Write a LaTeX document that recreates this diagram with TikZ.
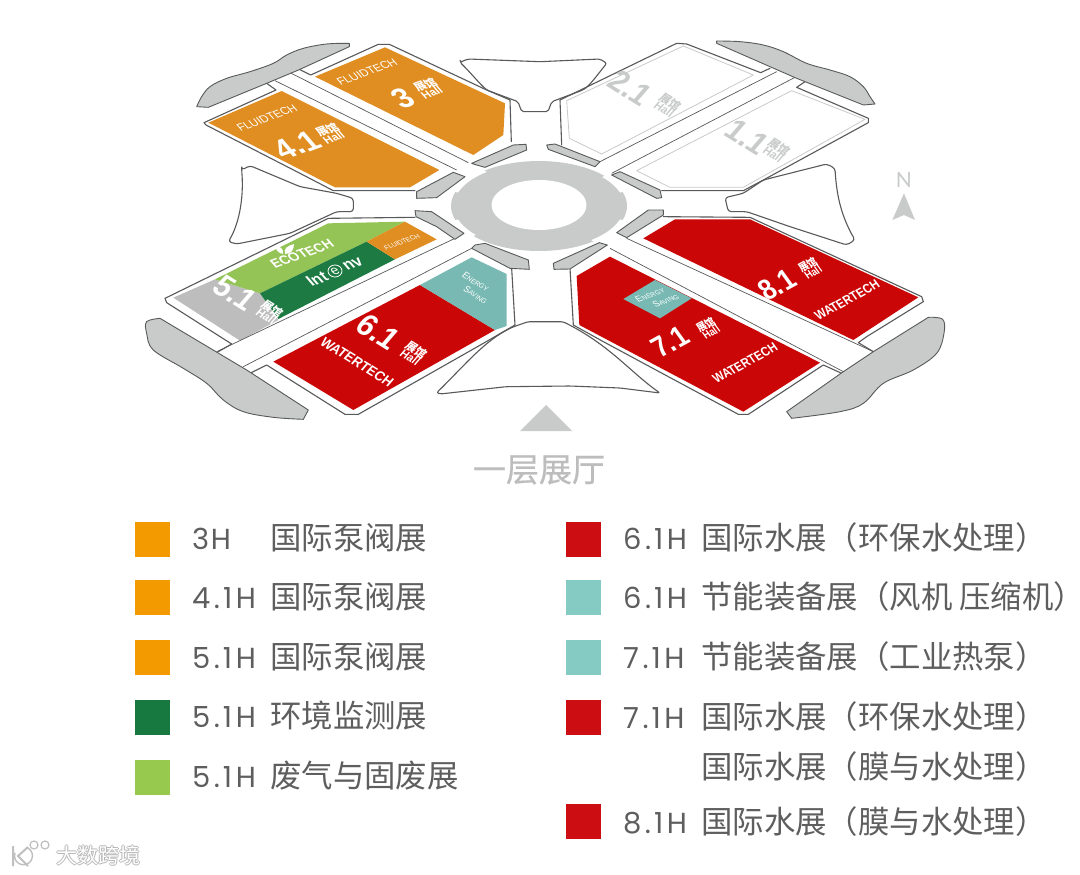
\documentclass[tikz,border=0pt]{standalone}
\usepackage{fontspec}
\setmainfont{Liberation Sans}
\newfontfamily\cjk{Noto Sans CJK SC}
\newfontfamily\cjkm[FakeBold=.6]{Noto Sans CJK SC}
\newfontfamily\latn[LetterSpace=6]{Poppins}
\definecolor{ol}{HTML}{58595B}
\definecolor{bar}{HTML}{C9CBCB}
\definecolor{hallor}{HTML}{E08E22}
\definecolor{hallred}{HTML}{CB0606}
\definecolor{hallteal}{HTML}{78B9B3}
\definecolor{dgreen}{HTML}{1C7A42}
\definecolor{lgreen}{HTML}{94C455}
\definecolor{hgray}{HTML}{BDBDBD}
\definecolor{ltxt}{HTML}{5E5E5E}
\definecolor{swor}{HTML}{F39A00}
\definecolor{swred}{HTML}{CC0D12}
\definecolor{swteal}{HTML}{86CAC4}
\definecolor{swdg}{HTML}{17793F}
\definecolor{swlg}{HTML}{98C94F}
\tikzset{
 ln/.style={draw=ol,line width=1.1pt,line join=round,line cap=round},
 thin road/.style={draw=ol,line width=.7pt},
 grayshape/.style={fill=bar,draw=ol,line width=.9pt,line join=round},
 z1/.style={shift={(140,30)},x=.33333pt,y=-.33333pt},
 z2/.style={shift={(540,30)},x=.33333pt,y=-.33333pt},
 z3/.style={shift={(140,200)},x=.33333pt,y=-.33333pt},
 z4/.style={shift={(520,200)},x=.33333pt,y=-.33333pt},
 isou/.style={cm={.82,.3,-.62,.72,(0,0)},inner sep=0pt,text=white,align=center},
 isor/.style={cm={.66,.36,-.52,.72,(0,0)},inner sep=0pt,text=white,align=center},
 isod/.style={cm={.74,-.46,.62,.72,(0,0)},inner sep=0pt,text=white,align=center},
 swatch/.style={minimum width=35pt,minimum height=35pt,inner sep=0pt,anchor=north west},
 leg/.style={text=ltxt,anchor=west,inner sep=0pt,font=\fontsize{29}{32}\selectfont\latn},
 legc/.style={text=ltxt,anchor=west,inner sep=0pt,font=\fontsize{31.4}{34}\selectfont\cjk},
 bignum/.style={font=\fontsize{34}{34}\selectfont\bfseries},
 hallt/.style={font=\fontsize{12.5}{12.5}\selectfont\cjk\bfseries},
 brand/.style={font=\fontsize{12.5}{12.5}\selectfont},
 wt/.style={font=\fontsize{15}{15}\selectfont\bfseries},
}
\newcommand\hl{{展馆}\\[-2pt]{\fontspec{Liberation Sans}\bfseries Hall}}
\newcommand\es[2]{{\fontsize{10}{10}\selectfont #1}{\fontsize{7.5}{10}\selectfont #2}}
\newcommand\lv[1]{#1\kern3.5pt.\kern3pt 1\kern3.5pt H}
\begin{document}
\begin{tikzpicture}[x=1pt,y=-1pt]
\useasboundingbox (0,0) rectangle (1080,875);
\fill[white] (0,0) rectangle (1080,875);
% fills
\begin{scope}[z1]
\fill[hallor] (525,140)--(735,52)--(1095,220)--(1090,315)--(1000,375)--cycle;
\fill[hallor] (205,278)--(425,183)--(898,420)--(810,472)--(585,472)--cycle;
\end{scope}
\begin{scope}[z3]
\fill[hgray] (225,238)--(100,293)--(300,422)--(415,360)--(360,280)--cycle;
\fill[lgreen] (225,238)--(565,70)--(795,65)--(680,125)--(360,280)--cycle;
\fill[dgreen] (360,280)--(680,125)--(765,178)--(415,357)--cycle;
\fill[hallor] (680,125)--(795,65)--(890,118)--(765,178)--cycle;
\fill[hallred] (840,255)--(1065,390)--(640,630)--(400,485)--cycle;
\fill[hallteal] (840,255)--(995,172)--(1100,222)--(1100,378)--(1065,390)--cycle;
\end{scope}
\begin{scope}[z4]
\fill[hallred] (370,115)--(465,58)--(690,58)--(1195,292)--(1000,420)--cycle;
\fill[hallred] (270,170)--(900,488)--(670,635)--(178,375)--(170,228)--cycle;
\fill[hallteal] (405,240)--(515,295)--(420,355)--(310,297)--cycle;
\end{scope}
\begin{scope}[z2]
\draw[draw=bar,line width=.8pt,line join=round] (640,135)--(430,48)--(80,212)--(88,325)--(185,372)--cycle;
\draw[draw=bar,line width=.8pt,line join=round] (290,422)--(755,182)--(975,268)--(610,472)--(390,472)--cycle;
\end{scope}
% centre ring
\fill[bar] (539,206) ellipse [x radius=85pt,y radius=43pt];
\begin{scope}[shift={(539,206)}]
\foreach \a/\b in {-18/18,42/128,162/198,222/308}{
 \fill[bar] (0pt,0pt)--(\a:88pt and 45pt) arc [start angle=\a,end angle=\b,x radius=88pt,y radius=45pt]--cycle;}
\end{scope}
\fill[white] (539,205) ellipse [x radius=47.5pt,y radius=25pt];
% outlines
\begin{scope}[z1]
\draw[ln] (478,118)--(512,135)--(715,43)--(748,43)--(1040,180)--(1110,210)--(1114,335);
\draw[thin road] (450,128)--(985,398);
\draw[thin road] (405,152)--(950,420);
\draw[ln] (380,160)--(408,180)--(192,278)--(198,285)--(480,430)--(580,482)--(825,482);
\draw[grayshape] (1010,405)--(1035,412)--(1160,360)--(1158,343)--(1120,345)--(995,400)--cycle;
\draw[grayshape] (830,485)--(830,505)--(890,503)--(975,440)--(940,427)--cycle;
\draw[ln,rounded corners=3pt] (305,420)--(330,407)--(480,470)--(590,490)--(640,505)--(640,545)--(590,545)--(450,610)--(290,642)--(265,635) .. controls (295,585) and (312,510) .. (305,420)--cycle;
\draw[grayshape] plot[smooth,tension=.6] coordinates {(628,40)(560,42)(490,55)(440,75)(400,100)(330,125)(260,145)(210,170)(185,200)(170,230)} --(205,232)--(380,160)--(480,118)--(628,50)--cycle;
\end{scope}
\draw[ln,rounded corners=2pt] (460,62.3)--(468,59)--(540,61.7)--(600,59)--(606.7,63.3) .. controls (595,78) and (590,85) .. (583,90)--(551.7,101.7)--(548,111.7)--(521.7,111.7)--(518,101.7)--(486.7,90) .. controls (478,82) and (470,72) .. (460,62.3)--cycle;
\begin{scope}[z2]
\draw[ln] (690,115)--(662,128)--(440,42)--(410,40)--(60,210)--(65,345);
\draw[thin road] (710,125)--(180,395);
\draw[thin road] (765,142)--(215,430);
\draw[ln] (795,155)--(770,172)--(985,265)--(985,278)--(670,450)--(610,482)--(365,482);
\draw[grayshape] (20,345)--(25,358)--(165,410)--(180,395)--(45,342)--cycle;
\draw[grayshape] (215,435)--(350,505)--(365,503)--(360,480)--(240,425)--cycle;
\draw[ln,rounded corners=3pt] (555,503)--(565,545)--(620,545)--(750,590)--(920,645)--(945,630) .. controls (905,560) and (890,500) .. (885,415)--(860,402)--(670,450)--(610,490)--cycle;
\draw[grayshape] plot[smooth,tension=.6] coordinates {(530,33)(600,35)(670,45)(730,65)(800,100)(870,120)(930,140)(970,170)(990,200)(1005,222)}--(970,225)--(770,145)--(530,40)--cycle;
\fill[bar] (1092,490)--(1125,570)--(1092,555)--(1057,570)--cycle;
\end{scope}
\begin{scope}[z3]
\draw[ln] (825,52)--(565,55)--(75,295)--(80,308)--(275,432)--(235,455);
\draw[thin road] (945,115)--(230,455);
\draw[thin road] (995,145)--(310,500);
\draw[ln] (1115,205)--(1125,375)--(1030,430)--(655,643)--(615,643)--(380,495)--(330,520);
\draw[grayshape] (825,32)--(828,50)--(890,80)--(945,118)--(972,100)--(875,35)--cycle;
\draw[grayshape] (995,145)--(1110,205)--(1168,208)--(1165,180)--(1035,130)--(1005,135)--cycle;
\draw[grayshape] plot[smooth,tension=.6] coordinates {(490,658)(400,652)(310,635)(250,600)(200,550)(130,505)(40,450)(20,400)(20,365)(60,355)}--(320,510)--(505,630)--(490,658)--cycle;
\end{scope}
\begin{scope}[z4]
\draw[ln] (430,50)--(690,52)--(1205,290)--(1210,305)--(1040,410)--(1015,428)--(1060,455);
\draw[thin road] (320,115)--(1060,455);
\draw[thin road] (270,145)--(970,515);
\draw[ln] (150,205)--(160,375)--(250,425)--(655,643)--(685,643)--(910,495)--(965,520);
\draw[grayshape] (290,98)--(320,113)--(430,45)--(430,30)--(385,30)--cycle;
\draw[grayshape] (100,190)--(102,208)--(150,207)--(262,135)--(238,128)--cycle;
\draw[grayshape] plot[smooth,tension=.6] coordinates {(815,655)(960,635)(1030,610)(1090,550)(1180,510)(1250,460)(1272,400)(1268,358)(1225,352)}--(1060,455)--(970,515)--(800,635)--(815,655)--cycle;
\end{scope}
\draw[ln,rounded corners=2pt] (440,394)--(506,386.7)--(570,386)--(620,388)--(660,393) .. controls (630,372) and (610,345) .. (563,321.7)--(528,321.7)--(513,327) .. controls (485,340) and (465,365) .. (436.7,392.7)--cycle;
% arrows
\fill[bar] (520,431)--(546,405)--(572,431)--cycle;
% hall labels
\node[isou,brand] (a1) at (367,72) {FLUIDTECH};
\node[isou,bignum] (a2) at (403,98) {3};
\node[isou,hallt] (a3) at (428,88) {\hl};
\node[isou,brand] (a4) at (267,118) {FLUIDTECH};
\node[isou,bignum] (a5) at (297,145) {4.1};
\node[isou,hallt] (a6) at (330,133) {\hl};
\node[isou,font=\fontsize{15}{15}\selectfont\bfseries] (b1) at (302,254) {ECOTECH};
\begin{scope}[shift={(-20,5)}]
\fill[white] (305,249) .. controls (303,243) and (308,241) .. (314,239) .. controls (314,245) and (311,249) .. (305,249)--cycle;
\fill[white] (303,249) .. controls (298,248) and (296,245) .. (295,241) .. controls (300,241) and (304,244) .. (303,249)--cycle;
\end{scope}
\node[isou,font=\fontsize{18}{18}\selectfont\bfseries] (b2) at (317,279) {Int};
\node[isou,font=\fontsize{15}{15}\selectfont] (b2e) at (335,271) {e};
\draw[white,line width=.8pt] (335,271) circle [x radius=7pt,y radius=6pt];
\node[isou,font=\fontsize{18}{18}\selectfont\bfseries] (b2n) at (353,264) {nv};
\node[isou,font=\fontsize{7.5}{8}\selectfont] (b3) at (402,242) {FLUIDTECH};
\node[isod,bignum] (b4) at (235,293) {5.1};
\node[isod,hallt] (b5) at (270,312) {\hl};
\node[isod,align=left] (c1) at (475,288) {\es{E}{NERGY}\\\hspace*{1.2em}\es{S}{AVING}};
\node[isod,bignum] (c2) at (378,332) {6.1};
\node[isod,hallt] (c3) at (414,353) {\hl};
\node[isod,wt] (c4) at (357,362) {WATERTECH};
\node[isor,bignum] (d1) at (670,342) {7.1};
\node[isor,hallt] (d2) at (708,328) {\hl};
\node[isor,wt] (d3) at (745,363) {WATERTECH};
\node[isou,align=left] (d4) at (657,298) {\es{E}{NERGY}\\\hspace*{1.2em}\es{S}{AVING}};
\node[isor,bignum] (e1) at (777,285) {8.1};
\node[isor,hallt] (e2) at (810,268) {\hl};
\node[isor,wt] (e3) at (847,300) {WATERTECH};
\node[isod,bignum,text=bar] (f1) at (630,88) {2.1};
\node[isod,hallt,text=bar] (f2) at (668,105) {\hl};
\node[isod,bignum,text=bar] (g1) at (747,137) {1.1};
\node[isod,hallt,text=bar] (g2) at (777,150) {\hl};
% north, floor title
\node[text=bar,font=\fontsize{21}{21}\selectfont\fontspec{Lato}] (north) at (904,180) {N};
\node[text=hgray,font=\fontsize{33}{34}\selectfont\cjkm,inner sep=0pt] (floor) at (539,470) {一层展厅};
% legend
\foreach \n/\y/\c in {s1/522/swor,s2/580/swor,s3/640/swor,s4/700/swdg,s5/760/swlg}
 \node[swatch,fill=\c] (\n) at (135,\y) {};
\foreach \n/\y/\c in {r1/522/swred,r2/580/swteal,r3/640/swteal,r4/700/swred,r5/804/swred}
 \node[swatch,fill=\c] (\n) at (566,\y) {};
\node[leg] (l1) at (192,539) {3H};
\node[legc] (l1c) at (270,538) {国际泵阀展};
\node[leg] (l2) at (192,598) {\lv{4}};
\node[legc] (l2c) at (270,597) {国际泵阀展};
\node[leg] (l3) at (192,658) {\lv{5}};
\node[legc] (l3c) at (270,657) {国际泵阀展};
\node[leg] (l4) at (192,717) {\lv{5}};
\node[legc] (l4c) at (270,716) {环境监测展};
\node[leg] (l5) at (192,777) {\lv{5}};
\node[legc] (l5c) at (270,776) {废气与固废展};
\node[leg] (m1) at (623,539) {\lv{6}};
\node[legc] (m1c) at (701,538) {国际水展（环保水处理）};
\node[leg] (m2) at (623,598) {\lv{6}};
\node[legc] (m2c) at (701,597) {节能装备展（风机 压缩机）};
\node[leg] (m3) at (623,658) {\lv{7}};
\node[legc] (m3c) at (701,657) {节能装备展（工业热泵）};
\node[leg] (m4) at (623,718) {\lv{7}};
\node[legc] (m4c) at (701,717) {国际水展（环保水处理）};
\node[legc] (m5c) at (701,767) {国际水展（膜与水处理）};
\node[leg] (m6) at (623,823) {\lv{8}};
\node[legc] (m6c) at (701,822) {国际水展（膜与水处理）};
% watermark
\foreach \dx/\dy in {-1/0,1/0,0/-1,0/1}
 \node[text=black!28,font=\fontsize{21}{22}\selectfont\cjk,inner sep=0pt,anchor=west] at (56+\dx,855+\dy) {大数跨境};
\node[text=white,font=\fontsize{21}{22}\selectfont\cjk,inner sep=0pt,anchor=west] (wm) at (56,855) {大数跨境};
\draw[black!25,line width=2pt] (13,846)--(13,866) (28,847)--(18,856)--(28,866);
\draw[black!25,line width=1.4pt] (28,848) arc [start angle=60,end angle=-200,radius=9pt];
\draw[black!25,line width=1.2pt] (34,845) circle [radius=4pt] (45,845) circle [radius=4pt];
\end{tikzpicture}
\end{document}
